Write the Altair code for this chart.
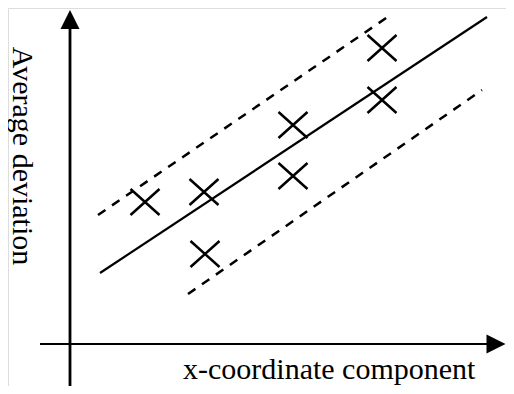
import altair as alt
import pandas as pd

# Data-space frame (origin at the crossing of the two axes)
X_DOMAIN = [-6.2, 43.6]
Y_DOMAIN = [-4.2, 33.6]

# Measured samples (drawn as X markers)
point_x = [7.5, 13.4, 13.5, 22.3, 22.3, 31.2, 31.2]
point_y = [14.2, 15.2, 9.0, 21.9, 16.8, 29.6, 24.4]

# Fitted line and its dashed bounds
fit_x = [3.0, 41.7]
fit_y = [7.1, 32.7]
upper_x = [2.8, 32.2]
upper_y = [12.9, 33.0]
lower_x = [11.8, 41.2]
lower_y = [5.0, 25.4]

# Axis lines and arrow heads
yaxis_x = [0, 0]
yaxis_y = [-4.2, 31.5]
xaxis_x = [-3.0, 41.8]
xaxis_y = [0, 0]
arrow_up = ([0.0], [32.45])
arrow_right = ([42.6], [0.0])

# Axis labels
ylabel_text = ["Average deviation"]
ylabel_x = [-5.7]
ylabel_y = [18.8]
xlabel_text = ["x-coordinate component"]
xlabel_x = [11.3]
xlabel_y = [-3.5]

W, H = 498, 378
FONT = "Liberation Serif"

xs = alt.Scale(domain=X_DOMAIN, nice=False, zero=False)
ys = alt.Scale(domain=Y_DOMAIN, nice=False, zero=False)


def enc(extra=None):
    d = dict(x=alt.X("x:Q", scale=xs, axis=None), y=alt.Y("y:Q", scale=ys, axis=None))
    if extra:
        d.update(extra)
    return d


def seg(xv, yv):
    return pd.DataFrame({"x": xv, "y": yv, "o": list(range(len(xv)))})


yaxis = alt.Chart(seg(yaxis_x, yaxis_y)).mark_line(
    color="black", strokeWidth=2.8, strokeCap="butt"
).encode(**enc({"order": "o:O"}))
xaxis = alt.Chart(seg(xaxis_x, xaxis_y)).mark_line(
    color="black", strokeWidth=2.2, strokeCap="butt"
).encode(**enc({"order": "o:O"}))

head_up = alt.Chart(pd.DataFrame({"x": arrow_up[0], "y": arrow_up[1]})).mark_point(
    shape="M0,-1L1,1L-1,1Z", size=361, filled=True, color="black", opacity=1
).encode(**enc())
head_right = alt.Chart(pd.DataFrame({"x": arrow_right[0], "y": arrow_right[1]})).mark_point(
    shape="M1,0L-1,-1L-1,1Z", size=361, filled=True, color="black", opacity=1
).encode(**enc())

fit = alt.Chart(seg(fit_x, fit_y)).mark_line(
    color="black", strokeWidth=2.2, strokeCap="butt"
).encode(**enc({"order": "o:O"}))

bounds_df = pd.concat([
    seg(upper_x, upper_y).assign(k="upper"),
    seg(lower_x, lower_y).assign(k="lower"),
])
bounds = alt.Chart(bounds_df).mark_line(
    color="black", strokeWidth=2.5, strokeDash=[9, 8], strokeCap="butt"
).encode(**enc({"order": "o:O", "detail": "k:N"}))

markers = alt.Chart(pd.DataFrame({"x": point_x, "y": point_y})).mark_point(
    shape="M-1,-0.9L1,0.9M-1,0.9L1,-0.9", size=841, filled=False,
    color="black", strokeWidth=2.5, opacity=1
).encode(**enc())

ylabel = alt.Chart(pd.DataFrame({"x": ylabel_x, "y": ylabel_y, "t": ylabel_text})).mark_text(
    font=FONT, fontSize=30, angle=90, align="center", baseline="alphabetic", color="black"
).encode(**enc({"text": "t:N"}))

xlabel = alt.Chart(pd.DataFrame({"x": xlabel_x, "y": xlabel_y, "t": xlabel_text})).mark_text(
    font=FONT, fontSize=30, align="left", baseline="alphabetic", color="black"
).encode(**enc({"text": "t:N"}))

chart = alt.layer(
    yaxis, xaxis, head_up, head_right, bounds, fit, markers, ylabel, xlabel
).properties(
    width=W, height=H, autosize=alt.AutoSizeParams(type="none"), padding=0
).configure_view(stroke=None).configure(background="white")

chart.save("out.html", embed_options={"renderer": "svg", "actions": False})
